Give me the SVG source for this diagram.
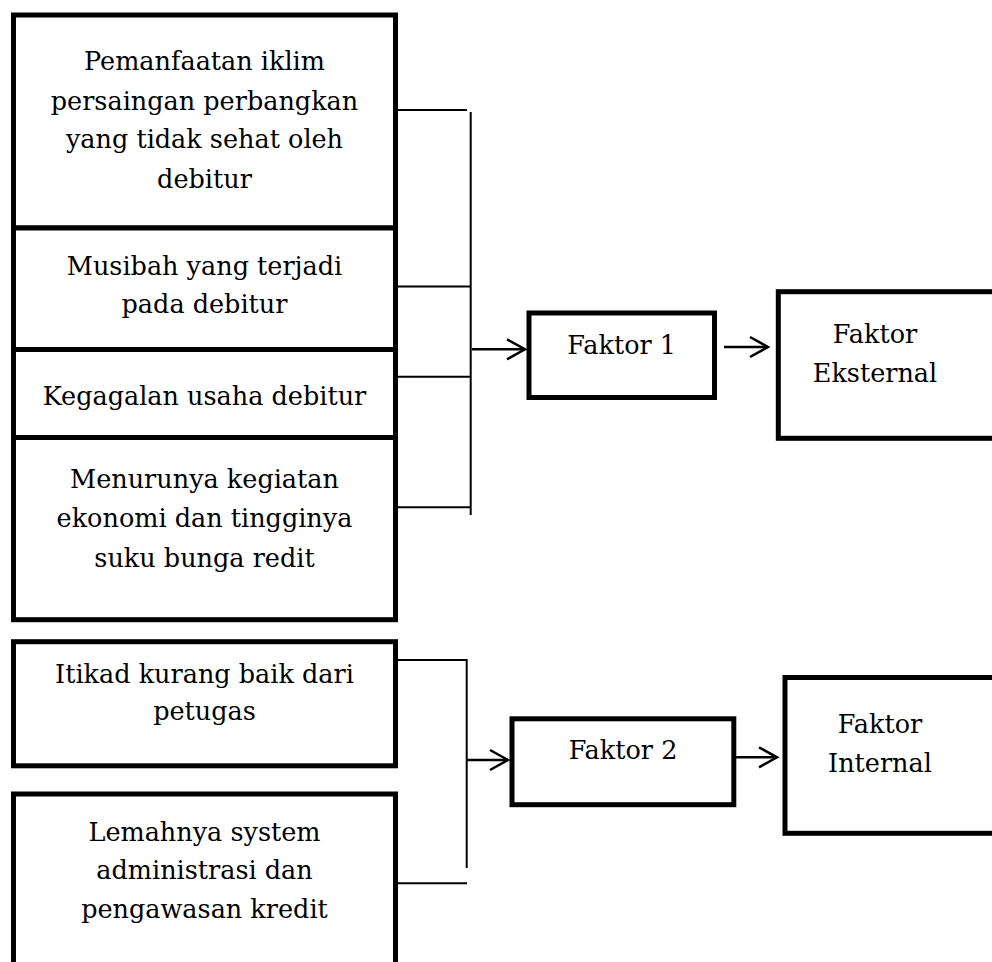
<svg xmlns="http://www.w3.org/2000/svg" width="992" height="962" viewBox="0 0 992 962">
<style>
.box{fill:#fff;stroke:#000;stroke-width:5}
.t{font-family:"DejaVu Serif","Liberation Serif",serif;font-size:25.5px;fill:#000;text-anchor:middle}
.c{fill:none;stroke:#000;stroke-width:2}
.a{fill:none;stroke:#000;stroke-width:2.5;marker-end:url(#arr)}
</style>
<defs>
<marker id="arr" markerUnits="userSpaceOnUse" markerWidth="24" markerHeight="26" refX="19" refY="11" orient="auto" viewBox="0 0 24 22">
<path d="M1,1 L19,11 L1,21" fill="none" stroke="#000" stroke-width="2.5"/>
</marker>
</defs>
<rect width="992" height="962" fill="#fff"/>
<g id="connectors">
<path class="c" d="M398,110 H467 M398,286.5 H470.7 M398,376.7 H470.7 M398,507.3 H470.7 M470.7,112 V515"/>
<path class="c" d="M398,660 H466.7 V868 M398,883.3 H467"/>
<line class="a" x1="472" y1="349.3" x2="525" y2="349.3"/>
<line class="a" x1="724" y1="347" x2="768" y2="347"/>
<line class="a" x1="466.7" y1="760" x2="508" y2="760"/>
<line class="a" x1="736" y1="757.3" x2="777" y2="757.3"/>
</g>
<g id="n1">
<rect class="box" x="13.5" y="15" width="382" height="213"/>
<text class="t" x="204.5" y="70">Pemanfaatan iklim</text>
<text class="t" x="204.5" y="109.5">persaingan perbangkan</text>
<text class="t" x="204.5" y="148">yang tidak sehat oleh</text>
<text class="t" x="204.5" y="188">debitur</text>
</g>
<g id="n2">
<rect class="box" x="13.5" y="228" width="382" height="121.5"/>
<text class="t" x="204.5" y="275">Musibah yang terjadi</text>
<text class="t" x="204.5" y="312.5">pada debitur</text>
</g>
<g id="n3">
<rect class="box" x="13.5" y="349.5" width="382" height="88"/>
<text class="t" x="204.5" y="405">Kegagalan usaha debitur</text>
</g>
<g id="n4">
<rect class="box" x="13.5" y="437.5" width="382" height="182.2"/>
<text class="t" x="204.5" y="488.3">Menurunya kegiatan</text>
<text class="t" x="204.5" y="527">ekonomi dan tingginya</text>
<text class="t" x="204.5" y="566.5">suku bunga redit</text>
</g>
<g id="faktor1">
<rect class="box" x="529" y="313" width="185.5" height="84.5"/>
<text class="t" x="621.7" y="354">Faktor 1</text>
</g>
<g id="eksternal">
<rect class="box" x="778.3" y="291.7" width="230" height="146.6"/>
<text class="t" x="875" y="343.3">Faktor</text>
<text class="t" x="875" y="381.7">Eksternal</text>
</g>
<g id="n5">
<rect class="box" x="13.5" y="641.7" width="382" height="124.1"/>
<text class="t" x="204.5" y="683.3">Itikad kurang baik dari</text>
<text class="t" x="204.5" y="720">petugas</text>
</g>
<g id="n6">
<rect class="box" x="13.5" y="794" width="382" height="190"/>
<text class="t" x="204.5" y="840.7">Lemahnya system</text>
<text class="t" x="204.5" y="879.3">administrasi dan</text>
<text class="t" x="204.5" y="917.7">pengawasan kredit</text>
</g>
<g id="faktor2">
<rect class="box" x="512" y="718.8" width="221.8" height="85.9"/>
<text class="t" x="623" y="759.3">Faktor 2</text>
</g>
<g id="internal">
<rect class="box" x="785" y="677.5" width="230" height="155.8"/>
<text class="t" x="880" y="733.3">Faktor</text>
<text class="t" x="880" y="772.3">Internal</text>
</g>
</svg>
